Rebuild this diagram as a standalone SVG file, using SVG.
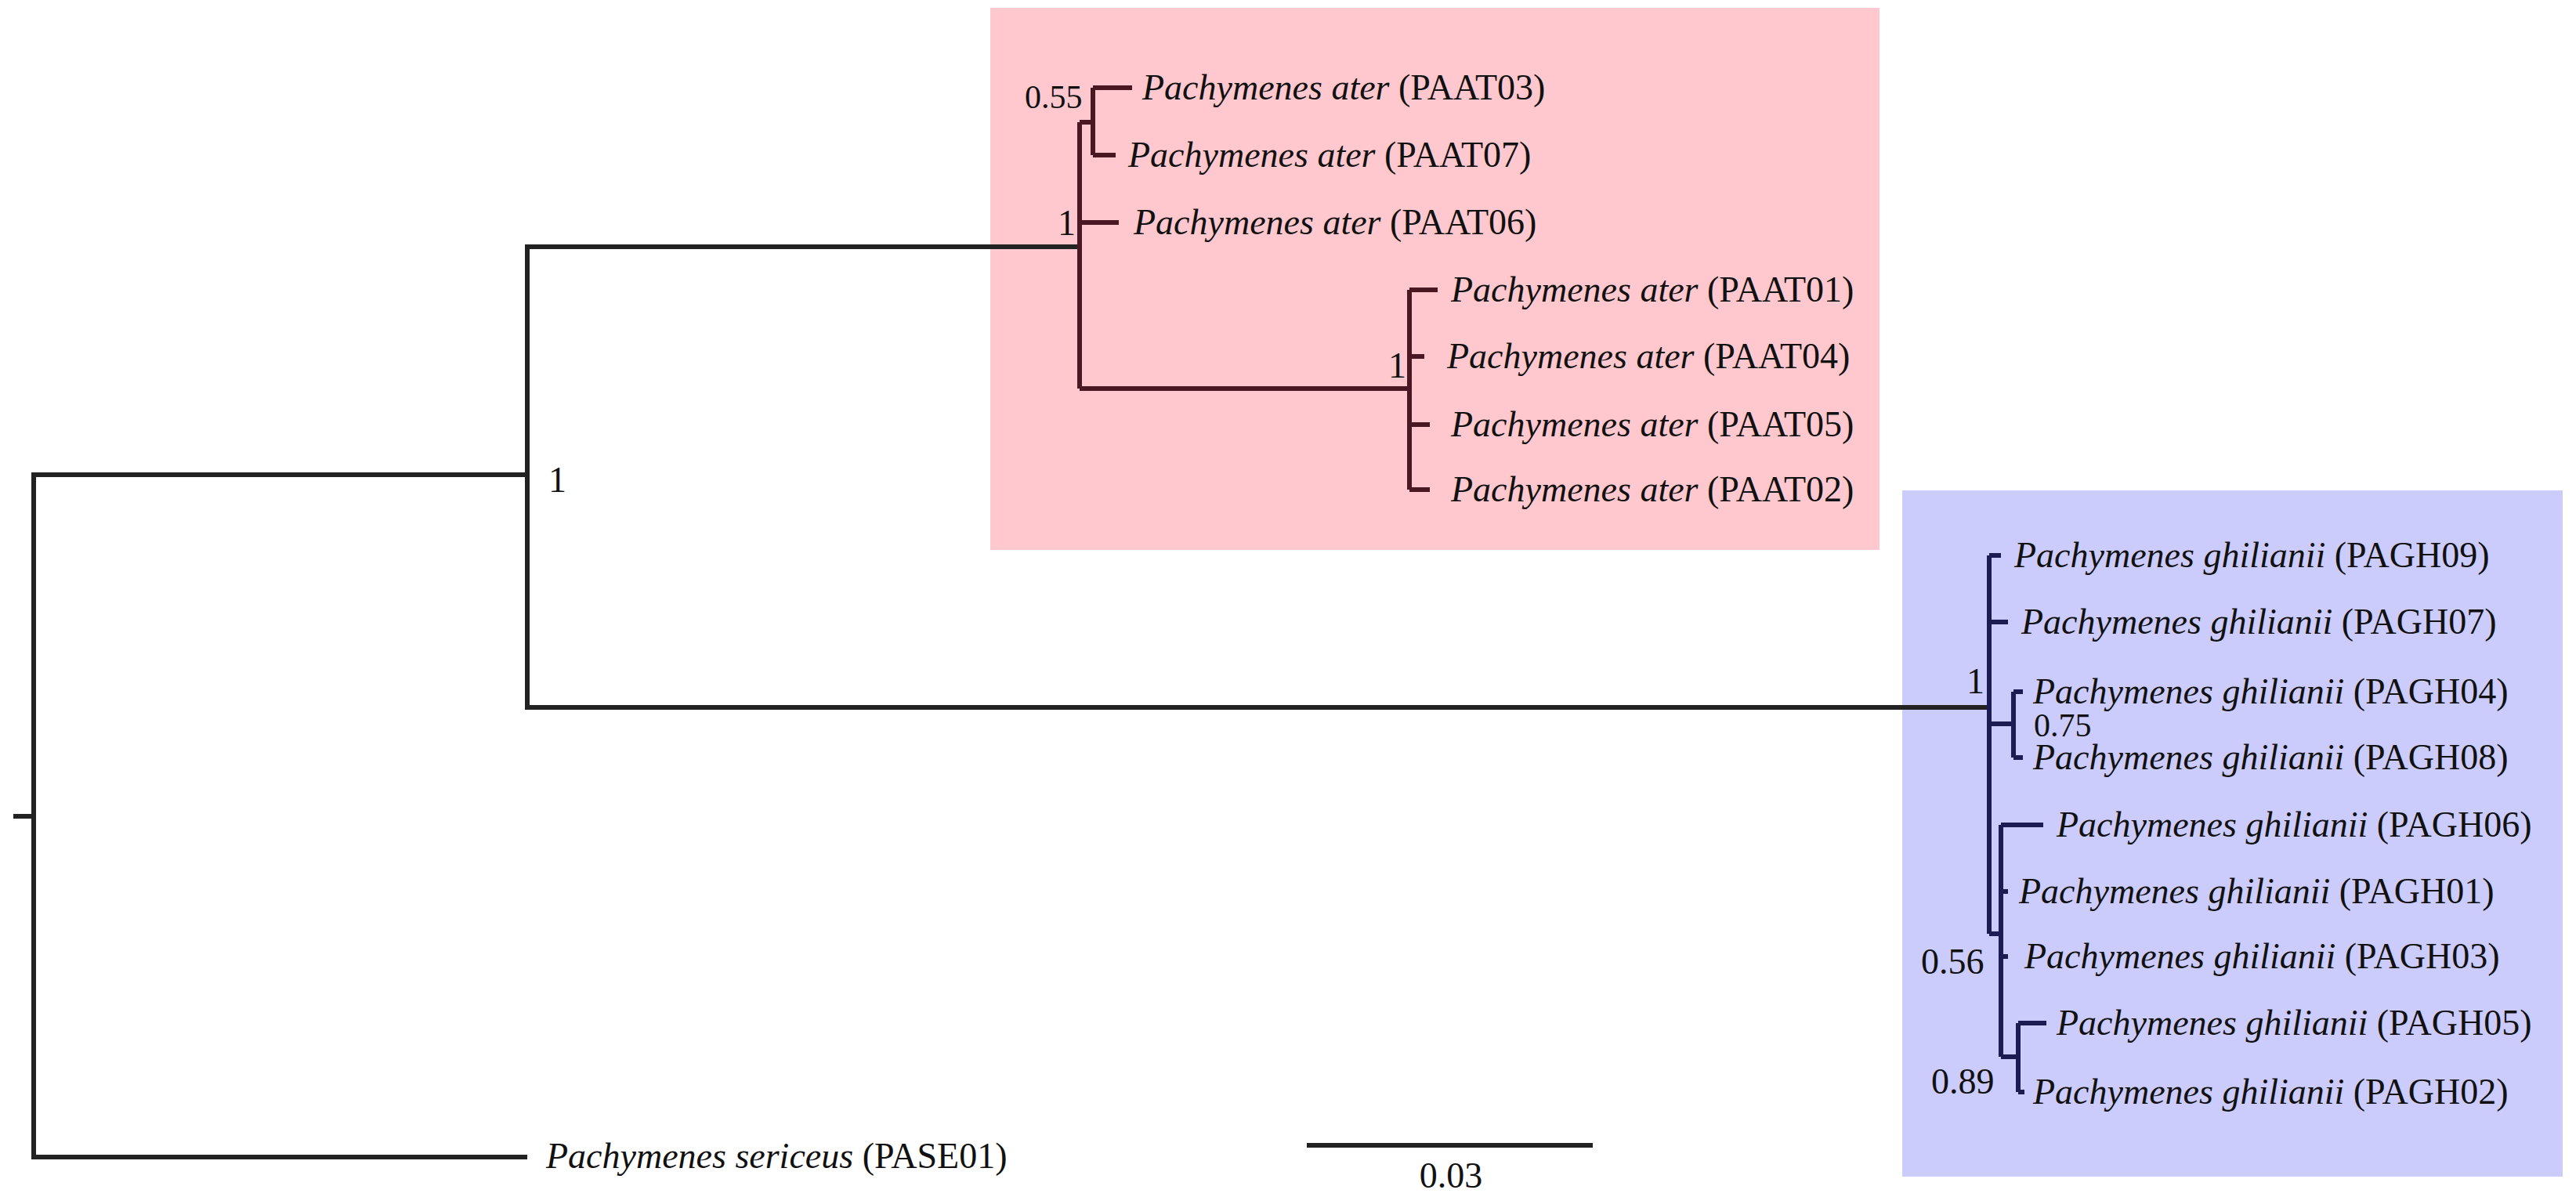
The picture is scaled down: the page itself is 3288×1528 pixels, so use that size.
<svg xmlns="http://www.w3.org/2000/svg" width="3288" height="1528" viewBox="0 0 3288 1528">
<style>
text{font-family:"Liberation Serif","Times New Roman",serif;font-size:46px;fill:#111}
.sp{font-style:italic}
.s{font-size:42px}
.k path{fill:none;stroke:#222;stroke-width:6;stroke-linecap:square}
.r path{fill:none;stroke:#4a1822;stroke-width:6}
.b path{fill:none;stroke:#1c1c52;stroke-width:6}
</style>
<rect x="0" y="0" width="3288" height="1528" fill="#fff"/>
<rect id="cladeA-box" x="1264" y="10" width="1135" height="692" fill="#ffc8ce"/>
<rect id="cladeB-box" x="2428" y="626" width="843" height="876" fill="#ccccfc"/>
<g id="connectors">
<g class="k">
<path d="M20 1042H43M43 606V1477M43 606H673M43 1477H670M673 315V903M673 315H1378M673 903H2539"/>
<path d="M1671 1462H2030"/>
</g>
<g class="r">
<path d="M1378 156V496M1378 156H1395M1395 112V198M1395 112H1445M1395 198H1424M1378 284H1428M1378 496H1799M1799 370V625M1799 370H1835M1799 455H1818M1799 542H1825M1799 625H1825"/>
</g>
<g class="b">
<path d="M2539 709V1192M2539 709H2554M2539 794H2563M2539 924H2570M2570 883V967M2570 883H2582M2570 967H2582M2539 1192H2554M2554 1053V1349M2554 1053H2608M2554 1138H2563M2554 1221H2563M2554 1349H2576M2576 1306V1394M2576 1306H2612M2576 1394H2584"/>
</g>
</g>
<g id="supports">
<text x="700" y="628">1</text>
<text class="s" x="1308" y="138">0.55</text>
<text x="1350" y="300">1</text>
<text x="1772" y="482">1</text>
<text x="2510" y="885">1</text>
<text class="s" x="2596" y="940">0.75</text>
<text x="2452" y="1243">0.56</text>
<text x="2465" y="1396">0.89</text>
</g>
<g id="PASE01"><text x="697" y="1491"><tspan class="sp">Pachymenes sericeus</tspan> (PASE01)</text></g>
<g id="PAAT03"><text x="1458" y="127"><tspan class="sp">Pachymenes ater</tspan> (PAAT03)</text></g>
<g id="PAAT07"><text x="1440" y="213"><tspan class="sp">Pachymenes ater</tspan> (PAAT07)</text></g>
<g id="PAAT06"><text x="1447" y="299"><tspan class="sp">Pachymenes ater</tspan> (PAAT06)</text></g>
<g id="PAAT01"><text x="1852" y="385"><tspan class="sp">Pachymenes ater</tspan> (PAAT01)</text></g>
<g id="PAAT04"><text x="1847" y="470"><tspan class="sp">Pachymenes ater</tspan> (PAAT04)</text></g>
<g id="PAAT05"><text x="1852" y="557"><tspan class="sp">Pachymenes ater</tspan> (PAAT05)</text></g>
<g id="PAAT02"><text x="1852" y="640"><tspan class="sp">Pachymenes ater</tspan> (PAAT02)</text></g>
<g id="PAGH09"><text x="2571" y="724"><tspan class="sp">Pachymenes ghilianii</tspan> (PAGH09)</text></g>
<g id="PAGH07"><text x="2580" y="809"><tspan class="sp">Pachymenes ghilianii</tspan> (PAGH07)</text></g>
<g id="PAGH04"><text x="2595" y="898"><tspan class="sp">Pachymenes ghilianii</tspan> (PAGH04)</text></g>
<g id="PAGH08"><text x="2595" y="982"><tspan class="sp">Pachymenes ghilianii</tspan> (PAGH08)</text></g>
<g id="PAGH06"><text x="2625" y="1068"><tspan class="sp">Pachymenes ghilianii</tspan> (PAGH06)</text></g>
<g id="PAGH01"><text x="2577" y="1153"><tspan class="sp">Pachymenes ghilianii</tspan> (PAGH01)</text></g>
<g id="PAGH03"><text x="2584" y="1236"><tspan class="sp">Pachymenes ghilianii</tspan> (PAGH03)</text></g>
<g id="PAGH05"><text x="2625" y="1321"><tspan class="sp">Pachymenes ghilianii</tspan> (PAGH05)</text></g>
<g id="PAGH02"><text x="2595" y="1409"><tspan class="sp">Pachymenes ghilianii</tspan> (PAGH02)</text></g>
<g id="scale"><text x="1852" y="1516" text-anchor="middle">0.03</text></g>
</svg>
